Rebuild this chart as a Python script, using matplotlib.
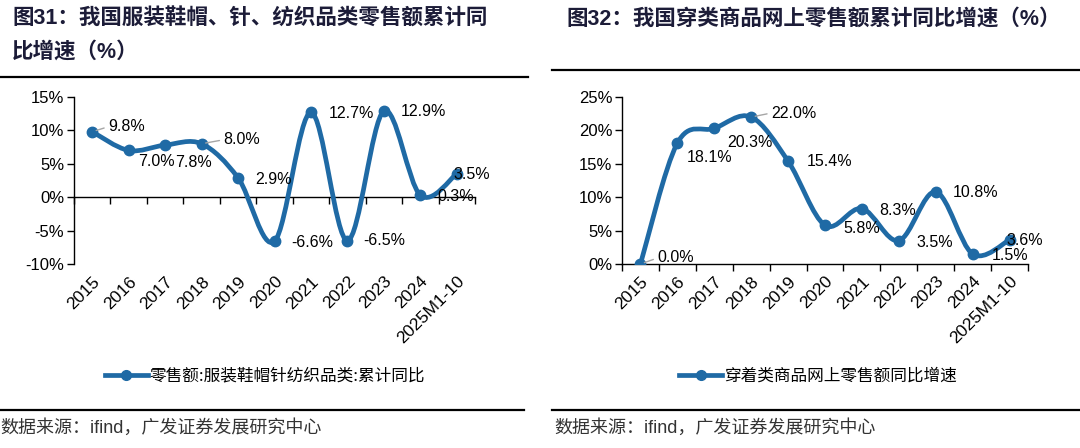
import numpy as np
import matplotlib
matplotlib.use("Agg")
import matplotlib.pyplot as plt
from matplotlib.path import Path
from matplotlib.patches import PathPatch
from matplotlib.lines import Line2D

plt.rcParams['font.family'] = ['Liberation Sans', 'Noto Sans CJK SC']

# ==== Données ====
categories = ['2015', '2016', '2017', '2018', '2019', '2020', '2021',
              '2022', '2023', '2024', '2025M1-10']
apparel_retail = [9.8, 7.0, 7.8, 8.0, 2.9, -6.6, 12.7, -6.5, 12.9, 0.3, 3.5]
online_apparel = [0.0, 18.1, 20.3, 22.0, 15.4, 5.8, 8.3, 3.5, 10.8, 1.5, 3.6]

left_title = ['图31：我国服装鞋帽、针、纺织品类零售额累计同', '比增速（%）']
right_title = '图32：我国穿类商品网上零售额累计同比增速（%）'
left_legend = '零售额:服装鞋帽针纺织品类:累计同比'
right_legend = '穿着类商品网上零售额同比增速'
source = '数据来源：ifind，广发证券发展研究中心'

# ==== Style ====
blue = '#1f6aa5'
grey = '#a6a6a6'
W, H = 1080, 448

# décalages des étiquettes (pixels) et lignes de rappel
left_offsets = [(16, 5), (9, -11), (10, -17), (22, 4), (17, -2), (17, -1),
                (18, -1), (16, 0), (17, 0), (17, -1), (-3, -1)]
left_leaders = [0, 3]
right_offsets = [(17, 6), (9, -14), (13, -14), (20, 4), (19, 0), (18, -3),
                 (17, -2), (18, -2), (17, -1), (19, -2), (-3, -1)]
right_leaders = [0, 3]


def smooth_path(x, y):
    # lissage type Excel (Catmull-Rom -> Bézier)
    pts = np.column_stack([x, y]).astype(float)
    n = len(pts)
    verts = [pts[0]]
    codes = [Path.MOVETO]
    for i in range(n - 1):
        p0 = pts[i - 1] if i > 0 else pts[i]
        p3 = pts[i + 2] if i + 2 < n else pts[i + 1]
        verts += [pts[i] + (pts[i + 1] - p0) / 6,
                  pts[i + 1] - (p3 - pts[i]) / 6,
                  pts[i + 1]]
        codes += [Path.CURVE4] * 3
    return Path(verts, codes)


def draw_panel(ax, values, ylim, yticks, offsets, leaders, zero_frac):
    x = np.arange(len(values))
    ax.add_patch(PathPatch(smooth_path(x, values), fill=False, color=blue,
                           lw=3.4, capstyle='round', joinstyle='round', zorder=3))
    ax.plot(x, values, 'o', color=blue, ms=7.5, zorder=4)
    ax.set_xlim(-0.5, len(values) - 0.5)
    ax.set_ylim(*ylim)
    ax.set_yticks(yticks)
    ax.set_yticklabels([f'{v:g}%' for v in yticks])
    ax.tick_params(axis='y', length=5, width=1, labelsize=12, pad=2, colors='black')
    for s in ['top', 'right', 'bottom']:
        ax.spines[s].set_visible(False)
    ax.spines['left'].set_linewidth(1)

    ax.set_xticks(x)
    ax.set_xticklabels(categories, rotation=45, ha='right',
                       rotation_mode='anchor', fontsize=12.5)
    ax.tick_params(axis='x', length=0, pad=7)

    # axe horizontal au niveau 0 avec graduations entre catégories
    sec = ax.secondary_xaxis(zero_frac)
    sec.set_xticks(np.arange(-0.5, len(values)))
    sec.set_xticklabels([])
    sec.tick_params(length=5, width=1)
    sec.spines['bottom'].set_linewidth(1)

    for i, v in enumerate(values):
        kw = {}
        if i in leaders:
            kw['arrowprops'] = dict(arrowstyle='-', color=grey, lw=1,
                                    shrinkA=1, shrinkB=3, relpos=(0, 0.5))
        ax.annotate(f'{v:.1f}%', (x[i], v), xytext=offsets[i],
                    textcoords='offset pixels', ha='left', va='center',
                    fontsize=11.5, zorder=5, **kw)


fig = plt.figure(figsize=(W / 100, H / 100), dpi=100)

ax1 = fig.add_axes([74 / W, 1 - 264 / H, 401 / W, 167 / H])
draw_panel(ax1, apparel_retail, (-10, 15), [-10, -5, 0, 5, 10, 15],
           left_offsets, left_leaders, 0.4)

ax2 = fig.add_axes([622 / W, 1 - 264 / H, 406 / W, 167 / H])
draw_panel(ax2, online_apparel, (0, 25), [0, 5, 10, 15, 20, 25],
           right_offsets, right_leaders, 0.0)

# titres
title_color = '#1c1c38'
fig.text(12 / W, 1 - 19 / H, left_title[0], fontsize=15.5, fontweight='bold',
         color=title_color, va='center')
fig.text(12 / W, 1 - 52 / H, left_title[1], fontsize=15.5, fontweight='bold',
         color=title_color, va='center')
fig.text(566 / W, 1 - 19 / H, right_title, fontsize=15.5, fontweight='bold',
         color=title_color, va='center')

# lignes de séparation
for x0, x1, y in [(0, 528, 77), (552, 1080, 70), (0, 524, 410), (552, 1080, 410)]:
    fig.add_artist(Line2D([x0 / W, x1 / W], [1 - y / H, 1 - y / H],
                          color='black', lw=1.6))

# légendes
for label, cx in [(left_legend, 265), (right_legend, 818)]:
    h = Line2D([], [], color=blue, lw=3.4, marker='o', ms=7)
    fig.legend([h], [label], loc='center', bbox_to_anchor=(cx / W, 1 - 376 / H),
               frameon=False, handlelength=2.6, handletextpad=0.1,
               prop={'family': 'Noto Sans CJK SC', 'size': 12})

# sources
fig.text(0, 1 - 428 / H, source, fontsize=13, color='#333333', va='center')
fig.text(554 / W, 1 - 428 / H, source, fontsize=13, color='#333333', va='center')

fig.savefig('out.png', dpi=100)
